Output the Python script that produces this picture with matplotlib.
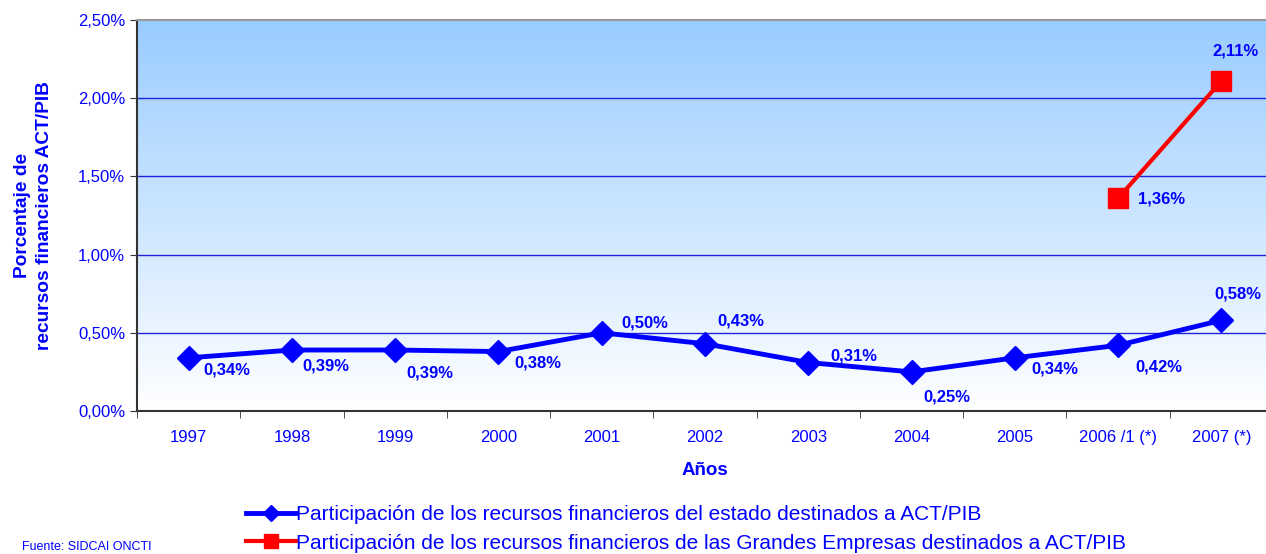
import numpy as np
import matplotlib
matplotlib.use("Agg")
import matplotlib.pyplot as plt
from matplotlib.colors import LinearSegmentedColormap

plt.rcParams['font.family'] = ['Liberation Sans', 'DejaVu Sans']

# data
years = ["1997", "1998", "1999", "2000", "2001", "2002", "2003", "2004",
         "2005", "2006 /1 (*)", "2007 (*)"]
estado = [0.34, 0.39, 0.39, 0.38, 0.50, 0.43, 0.31, 0.25, 0.34, 0.42, 0.58]
empresas_idx = [9, 10]
empresas = [1.36, 2.11]
yticks = [0.0, 0.5, 1.0, 1.5, 2.0, 2.5]

# label offsets in pixels (dx, dy) relative to each point
estado_off = [(38, -12), (34, -16), (35, -23), (39, -11), (43, 10), (36, 23),
              (46, 7), (35, -25), (40, -11), (41, -22), (17, 26)]
empresas_off = [(43, -1), (14, 30)]

BLUE = "#0000FF"
RED = "#FF0000"

fig = plt.figure(figsize=(12.66, 5.54), dpi=100)
ax = fig.add_axes([137 / 1266, 1 - 411 / 554, (1273 - 137) / 1266, (411 - 20) / 554])

# gradient background
cmap = LinearSegmentedColormap.from_list("bg", ["#FFFFFF", "#99CCFF"])
grad = np.linspace(0, 1, 256).reshape(-1, 1)
ax.imshow(grad, cmap=cmap, aspect="auto", origin="lower",
          extent=[0, 1, 0, 1], transform=ax.transAxes, zorder=0)

x = np.arange(len(years))
ax.set_xlim(-0.5, len(years) - 0.5)
ax.set_ylim(0, 2.5)

for yv in yticks[1:-1]:
    ax.axhline(yv, color="#2222DD", linewidth=1.0, zorder=1)

ax.plot(x, estado, color=BLUE, linewidth=3.5, marker="D", markersize=12,
        zorder=3, label="Participación de los recursos financieros del estado destinados a ACT/PIB")
ax.plot(x[empresas_idx], empresas, color=RED, linewidth=3, marker="s", markersize=14,
        zorder=3, label="Participación de los recursos financieros de las Grandes Empresas destinados a ACT/PIB")

for xi, v, (dx, dy) in zip(x, estado, estado_off):
    ax.annotate(f"{v:.2f}%".replace(".", ","), (xi, v), xytext=(dx, dy),
                textcoords="offset pixels", ha="center", va="center",
                color=BLUE, fontsize=12, fontweight="bold", zorder=4)
for xi, v, (dx, dy) in zip(x[empresas_idx], empresas, empresas_off):
    ax.annotate(f"{v:.2f}%".replace(".", ","), (xi, v), xytext=(dx, dy),
                textcoords="offset pixels", ha="center", va="center",
                color=BLUE, fontsize=12, fontweight="bold", zorder=4)

# axes styling
ax.set_yticks(yticks)
ax.set_yticklabels([f"{v:.2f}%".replace(".", ",") for v in yticks])
ax.set_xticks(x)
ax.set_xticklabels(years)
ax.set_xticks(np.arange(-0.5, len(years), 1), minor=True)
ax.tick_params(axis="x", which="major", length=0, pad=14, labelsize=12, labelcolor=BLUE)
ax.tick_params(axis="x", which="minor", length=5, color="#333333", direction="out")
ax.tick_params(axis="y", length=5, color="#333333", labelsize=12, labelcolor=BLUE)

for side in ["left", "bottom"]:
    ax.spines[side].set_color("#333333")
    ax.spines[side].set_linewidth(1.5)
ax.spines["top"].set_color("#999999")
ax.spines["top"].set_linewidth(1.5)
ax.spines["right"].set_visible(False)

ax.set_xlabel("Años", color=BLUE, fontsize=13.5, fontweight="bold", labelpad=12)
ax.set_ylabel("Porcentaje de\nrecursos financieros ACT/PIB", color=BLUE,
              fontsize=13.8, fontweight="bold", labelpad=18, linespacing=1.35)

leg = fig.legend(loc="upper left", bbox_to_anchor=(238 / 1266, 1 - 497 / 554),
                 frameon=False, fontsize=15, handlelength=2.4, handletextpad=0.0,
                 labelspacing=0.45, borderaxespad=0, markerscale=0.7)
for t in leg.get_texts():
    t.set_color(BLUE)

fig.text(22 / 1266, 1 / 554, "Fuente: SIDCAI ONCTI", color=BLUE, fontsize=9,
         va="bottom", ha="left")

fig.savefig("out.png", dpi=100)
